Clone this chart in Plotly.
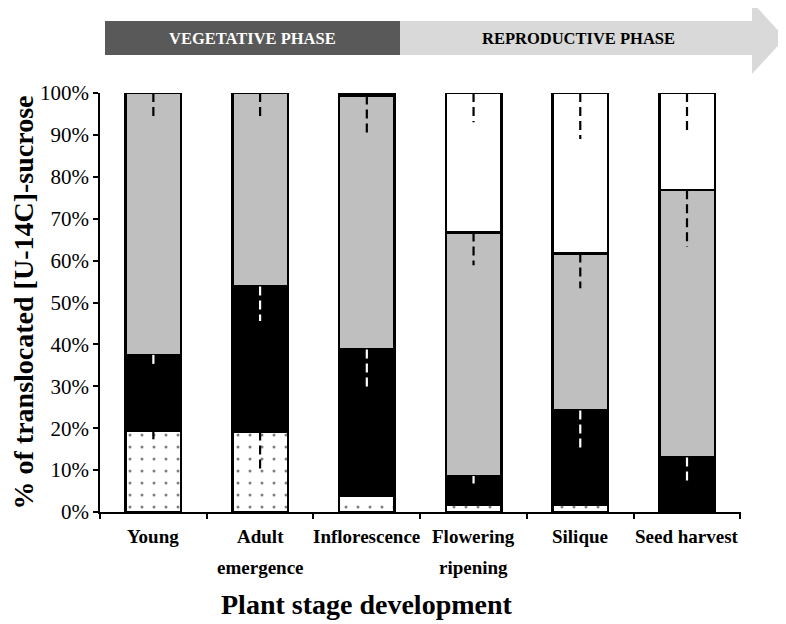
import plotly.graph_objects as go

categories = ["Young", "Adult<br>emergence", "Inflorescence", "Flowering<br>ripening", "Silique", "Seed harvest"]
dotted = [19.5, 19.2, 3.8, 1.7, 1.7, 0.5]
black = [18.0, 34.6, 35.0, 6.9, 22.5, 12.5]
grey = [62.5, 46.2, 60.6, 58.1, 37.5, 63.8]
white = [0.0, 0.0, 0.4, 33.3, 38.3, 23.2]
dotted_err = [3.0, 9.2, 0.0, 0.0, 0.0, 0.0]
black_err = [2.6, 8.2, 10.0, 1.8, 9.0, 6.2]
grey_err = [5.7, 6.3, 10.0, 7.8, 8.3, 13.5]
white_err = [0.0, 0.0, 0.0, 7.0, 11.0, 9.2]
y_ticks = [0, 10, 20, 30, 40, 50, 60, 70, 80, 90, 100]
y_tick_labels = [f"{v}%" for v in y_ticks]

SERIF = "Liberation Serif, Times New Roman, serif"
fig = go.Figure()

bw = 0.52
line = dict(color="black", width=2.5)
fig.add_trace(go.Bar(x=categories, y=dotted, width=bw, cliponaxis=False,
                     marker=dict(color="white", line=line,
                                 pattern=dict(shape=".", fgcolor="black", bgcolor="white", size=12, solidity=0.05))))
fig.add_trace(go.Bar(x=categories, y=black, width=bw, cliponaxis=False, marker=dict(color="black", line=line)))
fig.add_trace(go.Bar(x=categories, y=grey, width=bw, cliponaxis=False, marker=dict(color="#bfbfbf", line=line)))
fig.add_trace(go.Bar(x=categories, y=white, width=bw, cliponaxis=False, marker=dict(color="white", line=line)))

# minus-only dashed error bars
def err_lines(bottoms, heights, errs):
    xs, ys = [], []
    for c, b, h, e in zip(categories, bottoms, heights, errs):
        if e > 0 and h > 0:
            top = b + h
            xs += [c, c, None]
            ys += [top, top - e, None]
    return xs, ys

b0 = [0] * 6
b1 = dotted
b2 = [d + k for d, k in zip(dotted, black)]
b3 = [d + k + g for d, k, g in zip(dotted, black, grey)]
bx, by = [], []
for bott, h, e in [(b0, dotted, dotted_err), (b2, grey, grey_err), (b3, white, white_err)]:
    xs, ys = err_lines(bott, h, e)
    bx += xs; by += ys
wx, wy = err_lines(b1, black, black_err)
fig.add_trace(go.Scatter(x=bx, y=by, mode="lines", cliponaxis=False,
                         line=dict(color="black", width=2.2, dash="9px,5px"), hoverinfo="skip"))
fig.add_trace(go.Scatter(x=wx, y=wy, mode="lines", cliponaxis=False,
                         line=dict(color="white", width=2.2, dash="9px,5px"), hoverinfo="skip"))

# page has an 8px body margin: figure drawn from (8, 8)
OFF = 8
FW, FH = 786 - OFF, 624 - OFF
# plot-area in screen pixels
L, R, T, B = 100, 741, 93, 512
W, H = R - L, B - T
def px(x): return (x - L) / W
def py(y): return (B - y) / H

shapes = [
    dict(type="path", xref="paper", yref="paper",
         path=f"M {px(400)},{py(21)} L {px(752)},{py(21)} L {px(752)},{py(2)} L {px(785)},{py(38)} "
              f"L {px(752)},{py(74)} L {px(752)},{py(55)} L {px(400)},{py(55)} Z",
         fillcolor="#d9d9d9", line=dict(width=0), layer="below"),
    dict(type="rect", xref="paper", yref="paper", x0=px(105), x1=px(400), y0=py(55), y1=py(21),
         fillcolor="#595959", line=dict(width=0), layer="below"),
]
annotations = [
    dict(text="<b>VEGETATIVE PHASE</b>", xref="paper", yref="paper", x=px(252), y=py(38),
         xanchor="center", yanchor="middle",
         showarrow=False, font=dict(family=SERIF, size=16.5, color="white")),
    dict(text="<b>REPRODUCTIVE PHASE</b>", xref="paper", yref="paper", x=px(578), y=py(38),
         xanchor="center", yanchor="middle",
         showarrow=False, font=dict(family=SERIF, size=16.5, color="black")),
    dict(text="<b>Plant stage development</b>", xref="paper", yref="paper", x=px(367), y=py(604),
         xanchor="center", yanchor="middle",
         showarrow=False, font=dict(family=SERIF, size=28, color="black")),
]
# category labels, one annotation per text line (wider line spacing than plotly's default)
for c in categories:
    for i, part in enumerate(c.split("<br>")):
        annotations.append(dict(text=f"<b>{part}</b>", xref="x", yref="paper", x=c, y=py(536 + 31 * i),
                                xanchor="center", yanchor="middle", showarrow=False,
                                font=dict(family=SERIF, size=19, color="black")))

fig.update_layout(
    width=FW, height=FH, barmode="stack", showlegend=False,
    plot_bgcolor="white", paper_bgcolor="white",
    margin=dict(l=L - OFF, r=FW - (R - OFF), t=T - OFF, b=FH - (B - OFF), pad=0, autoexpand=False),
    shapes=shapes, annotations=annotations, bargap=0.48,
    font=dict(family=SERIF, color="black"),
)
fig.update_xaxes(
    showline=True, linecolor="black", linewidth=1.5, ticks="outside", ticklen=5, tickwidth=1.5,
    tickcolor="black", tickson="boundaries", showgrid=False, showticklabels=False,
)
fig.update_yaxes(
    range=[0, 100], showline=True, linecolor="black", linewidth=1.5, ticks="outside", ticklen=5,
    tickwidth=1.5, tickcolor="black", showgrid=False, zeroline=False,
    tickvals=y_ticks, ticktext=y_tick_labels,
    tickfont=dict(family=SERIF, size=21, color="black"),
    title=dict(text="<b>% of translocated [U-14C]-sucrose</b>", font=dict(family=SERIF, size=28, color="black"), standoff=8),
)
fig.write_html("out.html")
